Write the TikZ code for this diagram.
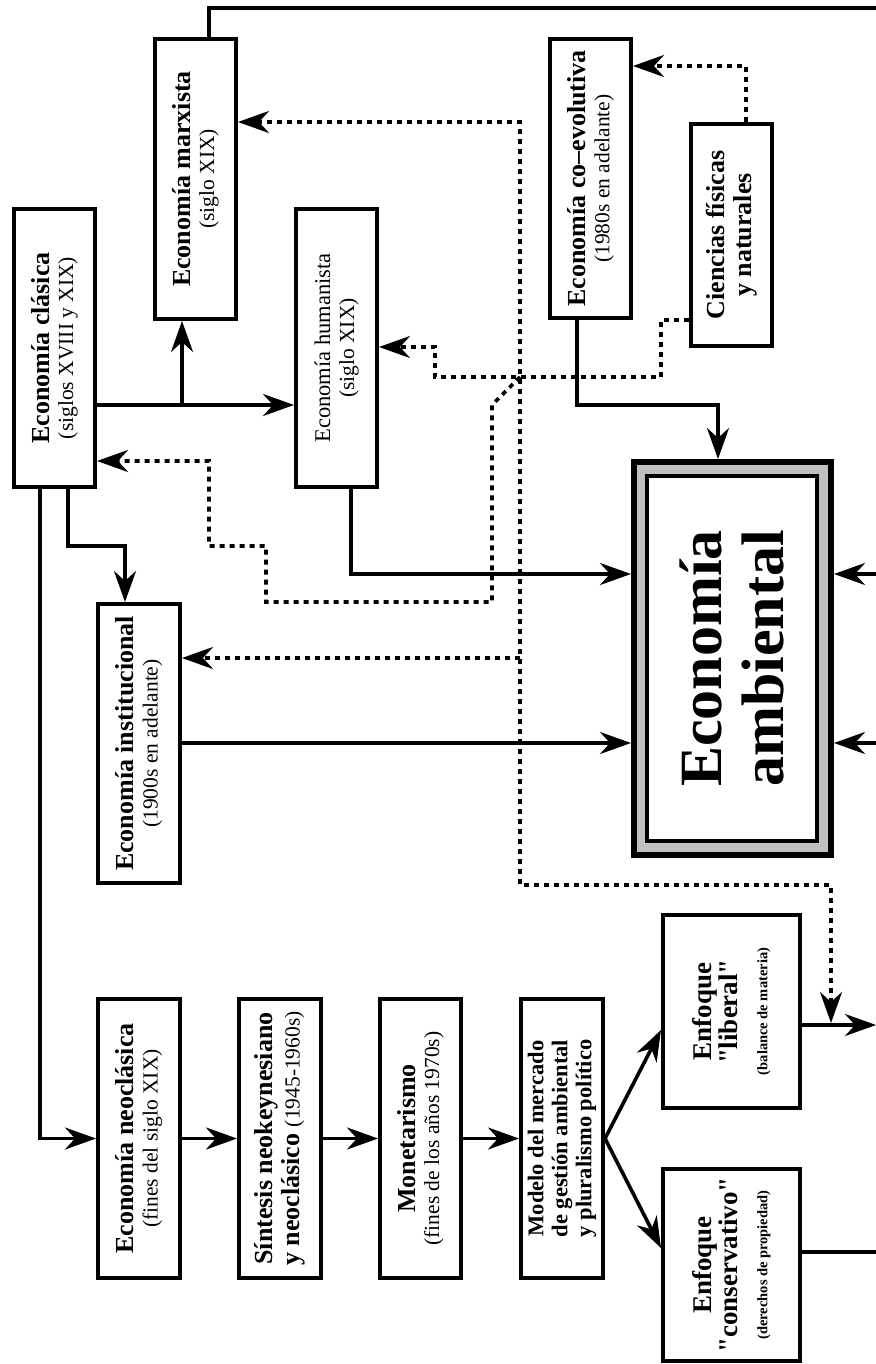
\documentclass[tikz,border=0pt]{standalone}
\usepackage{fontspec}
\setmainfont{Liberation Serif}
\newfontfamily\stq{Liberation Serif}
\usetikzlibrary{arrows.meta,calc}
\definecolor{silv}{RGB}{192,192,192}
\newcommand\Sbt{\fontsize{21.5}{24}\selectfont\mdseries}
\newcommand\Sml{\fontsize{14.5}{14}\selectfont\bfseries}
\newcommand\sq[1]{{\stq\bfseries "}#1{\stq\bfseries "}}
\begin{document}
\begin{tikzpicture}[x=1pt,y=-1pt,
  box/.style={draw,line width=3.8pt,inner sep=0pt,fill=white},
  txt/.style={rotate=90,align=center,inner sep=0pt,font=\fontsize{26}{24}\selectfont\bfseries},
  txtm/.style={txt,font=\fontsize{22.5}{24}\selectfont\bfseries},
  txtl/.style={txt,font=\fontsize{27}{26}\selectfont\bfseries},
  ln/.style={line width=3.6pt},
  dot/.style={line width=3.8pt,dash pattern=on 5pt off 5pt},
  >={Stealth[length=31pt,width=22pt,inset=10pt]}
]
\useasboundingbox (0,0) rectangle (875,1364);

% boxes
\node[box,minimum width=81.2pt,minimum height=278.2pt] (clasica) at (54.5,348) {};
\node[txt] (clasica-t) at (clasica) {Economía clásica\\{\Sbt (siglos XVIII y XIX)}};

\node[box,minimum width=81.2pt,minimum height=280.2pt] (marxista) at (195.5,179) {};
\node[txt] (marxista-t) at (marxista) {Economía marxista\\{\Sbt (siglo XIX)}};

\node[box,minimum width=81.2pt,minimum height=278.2pt] (humanista) at (336.5,348) {};
\node[txt,font=\fontsize{22.5}{24}\selectfont\mdseries] (humanista-t) at (humanista) {Economía humanista\\{\Sbt (siglo XIX)}};

\node[box,minimum width=81.2pt,minimum height=279.2pt] (coevol) at (590.5,178.5) {};
\node[txt] (coevol-t) at (coevol) {Economía co–evolutiva\\{\Sbt (1980s en adelante)}};

\node[box,minimum width=81.2pt,minimum height=222.2pt] (ciencias) at (731.5,235) {};
\node[txt] (ciencias-t) at (ciencias) {Ciencias físicas\\[3pt]y naturales};

\node[box,minimum width=82.2pt,minimum height=279.2pt] (institucional) at (139,743.5) {};
\node[txt] (institucional-t) at (institucional) {Economía institucional\\{\Sbt (1900s en adelante)}};

\node[box,minimum width=82.2pt,minimum height=279.2pt] (neoclasica) at (139,1138.5) {};
\node[txt] (neoclasica-t) at (neoclasica) {Economía neoclásica\\{\Sbt (fines del siglo XIX)}};

\node[box,minimum width=82.2pt,minimum height=279.2pt] (sintesis) at (280,1138.5) {};
\node[txt] (sintesis-t) at (sintesis) {Síntesis neokeynesiano\\[3pt]y neoclásico {\Sbt(1945-1960s)}};

\node[box,minimum width=81.2pt,minimum height=279.2pt] (monetarismo) at (420.5,1138.5) {};
\node[txt] (monetarismo-t) at (monetarismo) {Monetarismo\\{\Sbt (fines de los años 1970s)}};

\node[box,minimum width=82.2pt,minimum height=279.2pt] (modelo) at (562,1138.5) {};
\node[txtm] (modelo-t) at (modelo) {Modelo del mercado\\de gestión ambiental\\y pluralismo político};

\node[box,minimum width=137.2pt,minimum height=193.2pt] (liberal) at (731.5,1011.5) {};
\node[txtl] (liberal-t) at (liberal) {Enfoque\\\sq{liberal}\\[4pt]{\Sml (balance de materia)}};

\node[box,minimum width=137.2pt,minimum height=192.2pt] (conservativo) at (731.5,1265) {};
\node[txtl] (conservativo-t) at (conservativo) {Enfoque\\\sq{conservativo}\\[4pt]{\Sml (derechos de propiedad)}};

% central box
\node[draw,line width=6pt,fill=silv,inner sep=0pt,minimum width=197pt,minimum height=393pt] (amb) at (732.5,658.5) {};
\node[draw,line width=4pt,fill=white,inner sep=0pt,minimum width=170pt,minimum height=365pt] (ambin) at (732,658.5) {};
\node[rotate=90,align=center,inner sep=0pt,font=\fontsize{60}{62}\selectfont\bfseries] (amb-t) at (ambin) {Economía\\ambiental};

% free ends at the cut edge
\coordinate (eTop) at (877,8);
\coordinate (eR1) at (877,574);
\coordinate (eR2) at (877,743);
\coordinate (eLib) at (876,1025);
\coordinate (eCon) at (877,1252);

% solid connectors
\draw[ln] (marxista.north -| 209,0) |- (eTop);
\draw[ln,->] (clasica.east |- 0,405) -- (humanista.west |- 0,405);
\draw[ln,->] (182,405) -- (marxista.south -| 182,0);
\draw[ln,->] (clasica.south -| 40,0) |- (neoclasica.west);
\draw[ln,->] (clasica.south -| 68,0) |- (125,546) -- (institucional.north -| 125,0);
\draw[ln,->] (humanista.south -| 351,0) |- (amb.west |- 0,574);
\draw[ln,->] (institucional.east |- 0,743) -- (amb.west |- 0,743);
\draw[ln,->] (coevol.south -| 577,0) |- (718,405) -- (amb.north -| 718,0);
\draw[ln,->] (eR1) -- (amb.east |- eR1);
\draw[ln,->] (eR2) -- (amb.east |- eR2);
\draw[ln,->] (neoclasica.east) -- (sintesis.west);
\draw[ln,->] (sintesis.east) -- (monetarismo.west);
\draw[ln,->] (monetarismo.east) -- (modelo.west);
\draw[ln,->] (modelo.east) -- (liberal.west |- 0,1030);
\draw[ln,->] (modelo.east) -- (conservativo.west |- 0,1248);
\draw[ln,->] (liberal.east |- eLib) -- (eLib);
\draw[ln] (conservativo.east |- eCon) -- (eCon);

% dotted connectors
\draw[dot,->] (ciencias.north -| 746,0) |- (coevol.east |- 0,66);
\draw[dot,->] (ciencias.west |- 0,320) -| (661,377) -| (435,347) -- (humanista.east |- 0,347);
\draw[dot,->] (520,377) -- (492,405) |- (266,602) |- (209,546) |- (clasica.east |- 0,461);
\draw[dot,<->] (marxista.east |- 0,122) -| (520,885) -| (831,1023);
\draw[dot,->] (520,658) -- (institucional.east |- 0,658);
\end{tikzpicture}
\end{document}
